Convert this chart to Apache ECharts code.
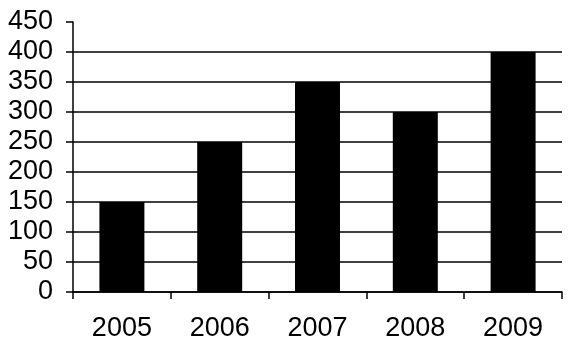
<!DOCTYPE html>
<html>
<head>
<meta charset="utf-8">
<script src="https://cdn.jsdelivr.net/npm/echarts@6/dist/echarts.min.js"></script>
<style>
  html, body { margin: 0; padding: 0; background: #fff; }
  #main { width: 577px; height: 351px; }
</style>
</head>
<body>
<div id="main"></div>
<script>
var years = ['2005', '2006', '2007', '2008', '2009'];
var values = [150, 250, 350, 300, 400];

(function () {
    var myChart = echarts.init(document.getElementById('main'));
    // grid lines black, except the top one (450) which Excel leaves off
    var lineColors = [];
    for (var i = 0; i < 9; i++) lineColors.push('#000');
    lineColors.push('rgba(0,0,0,0)');

    var option = {
        animation: false,
        grid: { left: 73, right: 15, top: 22, bottom: 59 },
        xAxis: {
            type: 'category',
            data: years,
            axisLine: { lineStyle: { color: '#000', width: 1.5 } },
            axisTick: { show: true, length: 7, lineStyle: { color: '#000', width: 1.5 } },
            axisLabel: {
                color: '#000', fontSize: 27, margin: 23,
                fontFamily: 'Liberation Sans, Arial, sans-serif'
            }
        },
        yAxis: {
            type: 'value',
            min: 0, max: 450, interval: 50,
            axisLine: { show: true, lineStyle: { color: '#000', width: 1.5 } },
            axisTick: { show: true, length: 7, lineStyle: { color: '#000', width: 1.5 } },
            axisLabel: {
                color: '#000', fontSize: 27, margin: 20,
                fontFamily: 'Liberation Sans, Arial, sans-serif'
            },
            splitLine: { show: true, lineStyle: { color: lineColors, width: 1.5 } }
        },
        series: [{
            type: 'bar',
            data: values,
            barWidth: '46%',
            itemStyle: { color: '#000' }
        }]
    };
    myChart.setOption(option);
})();
</script>
</body>
</html>
